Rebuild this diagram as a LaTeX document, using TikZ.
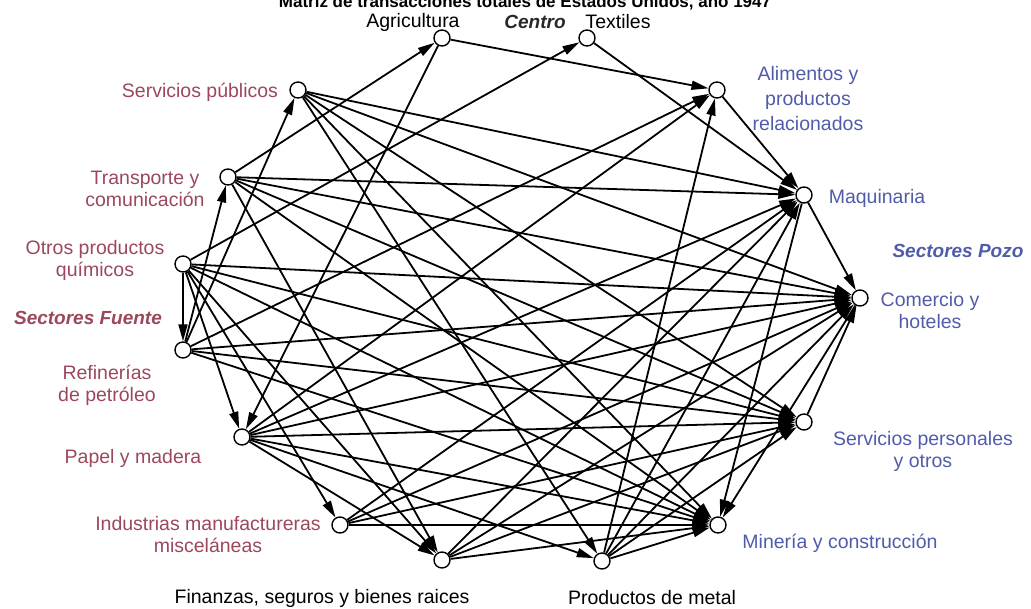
\documentclass[tikz,border=0pt]{standalone}
\usepackage{fontspec}
\setmainfont{Liberation Sans}
\usetikzlibrary{arrows.meta}
\definecolor{fuente}{RGB}{155,72,92}
\definecolor{pozo}{RGB}{80,92,170}
\definecolor{centro}{RGB}{40,40,40}
\pgfdeclarelayer{bg}
\pgfsetlayers{bg,main}
\begin{document}
\begin{tikzpicture}[x=1pt,y=-1pt,
  vert/.style={circle,draw,fill=white,minimum size=16pt,inner sep=0pt,line width=1.4pt},
  lab/.style={font=\fontsize{19.5}{22}\selectfont,align=center,inner sep=0pt},
  src/.style={lab,text=fuente},
  snk/.style={lab,text=pozo},
  ctr/.style={lab,text=black},
  edge/.style={line width=1.8pt,-{Triangle[length=17pt,width=9pt]}}]
\useasboundingbox (0,0) rectangle (1031,609);
% title (cut off at the top, as in the reference)
\node[anchor=base,font=\fontsize{17}{17}\selectfont\bfseries,inner sep=0pt] (title) at (525,8) {Matriz de transacciones totales de Estados Unidos, año 1947};
% vertices
\node[vert] (A)  at (442,38) {};
\node[vert] (T)  at (587,38) {};
\node[vert] (Al) at (717,90) {};
\node[vert] (Mq) at (804,195) {};
\node[vert] (Co) at (860,298) {};
\node[vert] (SP) at (804,422) {};
\node[vert] (Mi) at (718,525) {};
\node[vert] (PM) at (602,561) {};
\node[vert] (Fi) at (442,560) {};
\node[vert] (In) at (340,525) {};
\node[vert] (Pa) at (242,437) {};
\node[vert] (Re) at (183,350) {};
\node[vert] (Oq) at (183,264) {};
\node[vert] (Tr) at (228,177) {};
\node[vert] (Sp) at (298,90) {};
% labels
\node[ctr] (lA) at (413,22) {Agricultura};
\node[lab,text=centro,font=\fontsize{19}{22}\selectfont\bfseries\itshape] (lC) at (535,22) {Centro};
\node[ctr] (lT) at (618,22) {Textiles};
\node[src] (lSp) at (200,92) {Servicios públicos};
\node[src] (lTr) at (145,189) {Transporte y\\comunicación};
\node[src] (lOq) at (95,260) {Otros productos\\químicos};
\node[src,font=\fontsize{19}{22}\selectfont\bfseries\itshape] (lF) at (88,318) {Sectores Fuente};
\node[src] (lRe) at (107,385) {Refinerías\\de petróleo};
\node[src] (lPa) at (133,458) {Papel y madera};
\node[src] (lIn) at (208,535) {Industrias manufactureras\\misceláneas};
\node[ctr] (lFi) at (322,598) {Finanzas, seguros y bienes raices};
\node[ctr] (lPM) at (652,598) {Productos de metal};
\node[snk] (lMi) at (840,543) {Minería y construcción};
\node[snk] (lSP) at (923,451) {Servicios personales\\y otros};
\node[snk] (lCo) at (930,311) {Comercio y\\hoteles};
\node[snk,font=\fontsize{19}{22}\selectfont\bfseries\itshape] (lPz) at (958,251) {Sectores Pozo};
\node[snk] (lMq) at (877,198) {Maquinaria};
\node[snk,font=\fontsize{19.5}{25}\selectfont] (lAl) at (808,99) {Alimentos y\\productos\\relacionados};
% connectors
\begin{pgfonlayer}{bg}
\foreach \s/\t in {Sp/Mq,Sp/Co,Sp/SP,Sp/Mi,Sp/PM,
  Tr/A,Tr/Mq,Tr/Co,Tr/SP,Tr/Mi,Tr/Fi,
  Oq/T,Oq/Pa,Oq/In,Oq/Fi,Oq/Re,Oq/Co,Oq/SP,Oq/Mi,
  Re/Sp,Re/Tr,Re/Al,Re/Co,Re/SP,Re/Mi,
  Pa/Al,Pa/Mq,Pa/Co,Pa/SP,Pa/Mi,Pa/Fi,Pa/PM,
  In/Mq,In/Co,In/SP,In/Mi,
  A/Al,A/Pa,T/Mq,Al/Mq,
  Fi/Mq,Fi/Co,Fi/SP,Fi/Mi,
  PM/Al,PM/Mq,PM/Co,PM/SP,PM/Mi,
  Mq/Co,Mq/Mi,Co/Mi,SP/Co}
  \draw[edge] (\s) -- (\t);
\end{pgfonlayer}
\end{tikzpicture}
\end{document}
